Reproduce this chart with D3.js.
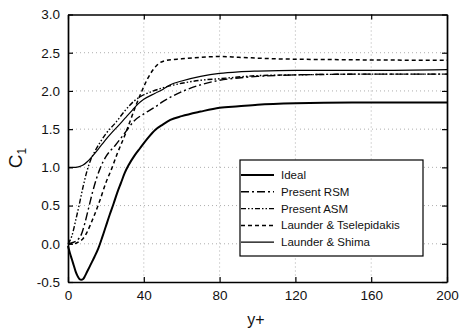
<!DOCTYPE html>
<html><head><meta charset="utf-8">
<script src="https://cdn.jsdelivr.net/npm/d3@7"></script>
<style>body{margin:0;background:#fff}svg{display:block}text{font-family:"Liberation Sans",Arial,sans-serif;fill:#111}</style>
</head><body><svg id="c" width="460" height="330"></svg>
<script>
const xTicks = [0, 40, 80, 120, 160, 200];
const yTicks = [-0.5, 0.0, 0.5, 1.0, 1.5, 2.0, 2.5, 3.0];
const yTickLabels = ["-0.5", "0.0", "0.5", "1.0", "1.5", "2.0", "2.5", "3.0"];
const seriesNames = ["Ideal", "Present RSM", "Present ASM", "Launder & Tselepidakis", "Launder & Shima"];

const idealX = [0,1,2,3,4,5,6,7,8,9,10,12,14,16,18,20,22,24,26,28,30,32,35,38,42,46,50,54,60,70,80,90,100,120,150,200];
const idealY = [-0.03,-0.12,-0.2,-0.28,-0.36,-0.42,-0.46,-0.47,-0.46,-0.42,-0.37,-0.27,-0.17,-0.06,0.08,0.23,0.38,0.52,0.67,0.8,0.93,1.03,1.15,1.25,1.38,1.49,1.56,1.62,1.67,1.73,1.78,1.80,1.82,1.84,1.85,1.85];

const rsmX = [0,3,5,7,9,11,13,15,17,20,25,30,35,40,46,50,55,61,70,80,90,100,120,160,200];
const rsmY = [0.0,0.02,0.05,0.12,0.28,0.48,0.68,0.85,0.99,1.14,1.29,1.45,1.61,1.70,1.79,1.86,1.93,2.0,2.08,2.14,2.17,2.19,2.21,2.22,2.22];

const asmX = [0,2,4,6,8,10,12,14,17,20,25,30,35,40,44,50,60,70,80,100,120,160,200];
const asmY = [0.0,0.1,0.3,0.52,0.75,0.95,1.1,1.2,1.33,1.44,1.58,1.74,1.87,1.95,1.99,2.04,2.1,2.14,2.16,2.2,2.21,2.22,2.22];

const ltX = [0,3,6,8,10,12,14,17,20,23,26,30,33,36,39,42,45,48,52,60,70,80,90,110,140,200];
const ltY = [0.0,0.0,0.03,0.07,0.15,0.26,0.38,0.58,0.8,0.98,1.18,1.42,1.62,1.82,2.0,2.16,2.28,2.36,2.40,2.42,2.44,2.45,2.44,2.42,2.41,2.40];

const lsX = [0,2,4,6,8,10,13,16,19.5,23,26,30,34,37,40,46,50,54,60,70,80,90,100,120,160,200];
const lsY = [1.0,1.0,1.0,1.01,1.03,1.07,1.15,1.24,1.35,1.45,1.53,1.64,1.75,1.83,1.89,1.97,2.02,2.08,2.13,2.19,2.23,2.25,2.26,2.27,2.27,2.28];

const styles = [
  {w:2.0, dash:null},
  {w:1.4, dash:"8,3,2,3"},
  {w:1.4, dash:"5,2,1.5,2,1.5,2"},
  {w:1.5, dash:"4,3"},
  {w:1.2, dash:null}
];
const series = [[idealX,idealY],[rsmX,rsmY],[asmX,asmY],[ltX,ltY],[lsX,lsY]];

const svg = d3.select("#c");
const x = d3.scaleLinear().domain([0,200]).range([68,447]);
const y = d3.scaleLinear().domain([-0.5,3]).range([282,14.5]);

// grid
const g = svg.append("g");
g.selectAll(".gx").data(xTicks.slice(1,-1)).join("line")
  .attr("x1",d=>x(d)).attr("x2",d=>x(d)).attr("y1",y(3)).attr("y2",y(-0.5))
  .attr("stroke","#999").attr("stroke-width",0.8).attr("stroke-dasharray","1,3");
g.selectAll(".gy").data(yTicks.slice(1,-1)).join("line")
  .attr("y1",d=>y(d)).attr("y2",d=>y(d)).attr("x1",x(0)).attr("x2",x(200))
  .attr("stroke","#999").attr("stroke-width",0.8).attr("stroke-dasharray","1,3");

// curves
const line = d3.line().x(d=>x(d[0])).y(d=>y(d[1])).curve(d3.curveMonotoneX);
series.forEach((s,i)=>{
  const pts = s[0].map((v,k)=>[v,s[1][k]]);
  svg.append("path").attr("d",line(pts)).attr("fill","none")
    .attr("stroke","#000").attr("stroke-width",styles[i].w)
    .attr("stroke-dasharray",styles[i].dash);
});

// axes (inward ticks on all sides)
const ax = svg.append("g");
ax.append("g").attr("transform",`translate(0,${y(-0.5)})`)
  .call(d3.axisBottom(x).tickValues(xTicks).tickSizeInner(-5).tickSizeOuter(0).tickPadding(8).tickFormat(d3.format("d")));
ax.append("g").attr("transform",`translate(0,${y(3)})`)
  .call(d3.axisTop(x).tickValues(xTicks).tickSizeInner(-5).tickSizeOuter(0).tickFormat(""));
ax.append("g").attr("transform",`translate(${x(0)},0)`)
  .call(d3.axisLeft(y).tickValues(yTicks).tickSizeInner(-5).tickSizeOuter(0).tickPadding(8).tickFormat((d,i)=>yTickLabels[i]));
ax.append("g").attr("transform",`translate(${x(200)},0)`)
  .call(d3.axisRight(y).tickValues(yTicks).tickSizeInner(-5).tickSizeOuter(0).tickFormat(""));
ax.selectAll(".domain").attr("stroke","#000").attr("stroke-width",1.7);
ax.selectAll(".tick line").attr("stroke","#000").attr("stroke-width",1.2);
ax.selectAll(".tick text").attr("font-size",13.5).attr("font-family","Liberation Sans, Arial, sans-serif").attr("fill","#111");

// axis titles
const ct = svg.append("text").attr("transform","translate(22,158) rotate(-90)")
  .attr("text-anchor","middle").attr("font-size",19);
ct.append("tspan").text("C");
ct.append("tspan").attr("font-size",12).attr("dy",4).text("1");
svg.append("text").attr("x",256).attr("y",325).attr("text-anchor","middle").attr("font-size",16).text("y+");

// legend
const lg = svg.append("g");
lg.append("rect").attr("x",240).attr("y",160).attr("width",183).attr("height",96)
  .attr("fill","#fff").attr("stroke","#000").attr("stroke-width",1.2);
seriesNames.forEach((n,i)=>{
  const yy = 175 + i*16.8;
  lg.append("line").attr("x1",241).attr("x2",274).attr("y1",yy).attr("y2",yy)
    .attr("stroke","#000").attr("stroke-width",styles[i].w).attr("stroke-dasharray",styles[i].dash);
  lg.append("text").attr("x",281).attr("y",yy+4).attr("font-size",11.5).text(n);
});
</script></body></html>
